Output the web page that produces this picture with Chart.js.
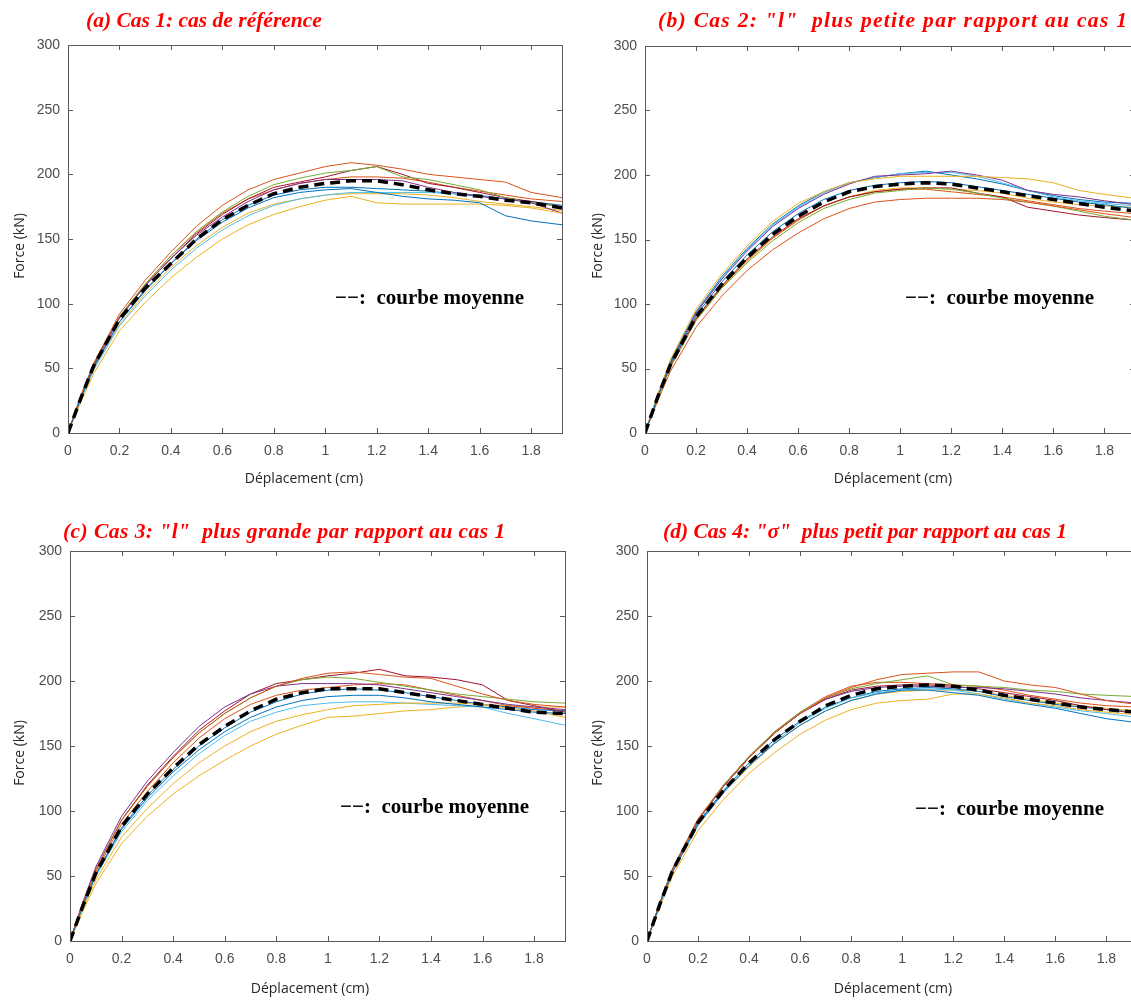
<!DOCTYPE html>
<html>
<head>
<meta charset="utf-8">
<script src="https://cdn.jsdelivr.net/npm/chart.js@4.4.1/dist/chart.umd.min.js"></script>
<style>
  body { margin: 0; background: #fff; width: 1131px; height: 1000px; overflow: hidden; position: relative; }
  .panneau { position: absolute; }
  .titre { position: absolute; font-family: "Liberation Serif", serif; font-weight: bold; font-style: italic;
           font-size: 21.5px; color: #ff0000; white-space: nowrap; line-height: 22px; }
  .note { position: absolute; font-family: "Liberation Serif", serif; font-weight: bold;
          font-size: 21px; color: #000; white-space: nowrap; line-height: 22px; }
  .axeX { position: absolute; font-family: "Open Sans", sans-serif; font-size: 14px; color: #262626;
          white-space: nowrap; line-height: 16px; transform: translateX(-50%); }
  .axeY { position: absolute; font-family: "Open Sans", sans-serif; font-size: 14px; color: #262626;
          white-space: nowrap; line-height: 16px; transform: translate(-50%, -50%) rotate(-90deg); }
</style>
</head>
<body>

<div class="panneau" style="left:0px;top:0px"><canvas id="grA" width="570" height="505"></canvas></div>
<div class="panneau" style="left:570px;top:0px"><canvas id="grB" width="580" height="505"></canvas></div>
<div class="panneau" style="left:0px;top:505px"><canvas id="grC" width="575" height="495"></canvas></div>
<div class="panneau" style="left:570px;top:505px"><canvas id="grD" width="580" height="495"></canvas></div>

<div class="titre" style="left:86px;top:9px">(a) Cas 1: cas de référence</div>
<div class="titre" style="left:658px;top:9px;letter-spacing:1.3px">(b) Cas 2: "l"&nbsp; plus petite par rapport au cas 1</div>
<div class="titre" style="left:63px;top:520px;letter-spacing:0.45px">(c) Cas 3: "l"&nbsp; plus grande par rapport au cas 1</div>
<div class="titre" style="left:663px;top:520px">(d) Cas 4: "σ"&nbsp; plus petit par rapport au cas 1</div>

<div class="note" style="left:335px;top:286px">−−:&nbsp; courbe moyenne</div>
<div class="note" style="left:905px;top:286px">−−:&nbsp; courbe moyenne</div>
<div class="note" style="left:340px;top:795px">−−:&nbsp; courbe moyenne</div>
<div class="note" style="left:915px;top:797px">−−:&nbsp; courbe moyenne</div>

<div class="axeX" style="left:304px;top:470px">Déplacement (cm)</div>
<div class="axeX" style="left:893px;top:470px">Déplacement (cm)</div>
<div class="axeX" style="left:310px;top:980px">Déplacement (cm)</div>
<div class="axeX" style="left:893px;top:980px">Déplacement (cm)</div>

<div class="axeY" style="left:19px;top:246px">Force (kN)</div>
<div class="axeY" style="left:597px;top:246px">Force (kN)</div>
<div class="axeY" style="left:19px;top:753px">Force (kN)</div>
<div class="axeY" style="left:597px;top:753px">Force (kN)</div>

<script>
// abscisses communes (cm)
var deplacement = [0, 0.05, 0.1, 0.2, 0.3, 0.4, 0.5, 0.6, 0.7, 0.8, 0.9, 1.0, 1.1, 1.2, 1.3, 1.4, 1.5, 1.6, 1.7, 1.8, 1.92];

// couleurs MATLAB par défaut
var couleurs = ['#0072BD', '#D95319', '#EDB120', '#7E2F8E', '#77AC30', '#4DBEEE', '#A2142F', '#0072BD', '#D95319', '#EDB120'];

var ticksX = [0, 0.2, 0.4, 0.6, 0.8, 1, 1.2, 1.4, 1.6, 1.8];
var ticksY = [0, 50, 100, 150, 200, 250, 300];

// Cas 1 : force (kN)
var cas1Essais = [
    [0, 27, 51, 86, 110, 131, 149, 163, 174, 182, 186, 188, 189, 186, 183, 181, 180, 178, 168, 164, 161],
    [0, 29, 54, 92, 118, 140, 160, 176, 188, 196, 201, 206, 209, 207, 204, 200, 198, 196, 194, 186, 182],
    [0, 24, 46, 79, 101, 120, 136, 150, 161, 169, 175, 180, 183, 178, 177, 177, 177, 177, 176, 174, 170],
    [0, 28, 53, 89, 114, 135, 153, 167, 179, 188, 193, 196, 196, 196, 195, 190, 186, 183, 181, 178, 170],
    [0, 28, 53, 90, 115, 137, 156, 171, 183, 192, 197, 201, 203, 206, 198, 196, 192, 188, 182, 178, 175],
    [0, 26, 49, 83, 106, 126, 143, 157, 168, 176, 181, 184, 186, 186, 186, 186, 185, 184, 181, 178, 175],
    [0, 28, 52, 89, 114, 135, 154, 169, 181, 190, 194, 198, 203, 206, 200, 193, 190, 186, 182, 179, 175],
    [0, 27, 51, 86, 111, 131, 150, 165, 176, 184, 188, 190, 190, 189, 188, 187, 185, 183, 181, 179, 176],
    [0, 28, 53, 90, 115, 137, 155, 170, 181, 188, 193, 196, 198, 198, 197, 194, 190, 187, 184, 181, 179],
    [0, 26, 49, 84, 108, 128, 145, 159, 170, 177, 181, 184, 185, 185, 185, 184, 182, 179, 177, 175, 172]
];
var cas1Moyenne = [0, 27, 52, 88, 112, 131, 150, 165, 176, 185, 190, 193, 195, 195, 192, 188, 185, 183, 180, 178, 174];

// Cas 2
var cas2Essais = [
    [0, 28, 54, 91, 117, 138, 156, 170, 181, 188, 192, 194, 195, 194, 191, 188, 185, 182, 179, 177, 174],
    [0, 25, 48, 82, 106, 126, 142, 155, 166, 174, 179, 181, 182, 182, 182, 181, 179, 176, 173, 170, 167],
    [0, 30, 57, 96, 123, 145, 164, 178, 187, 194, 197, 199, 199, 199, 199, 198, 197, 194, 188, 185, 182],
    [0, 29, 55, 93, 119, 141, 160, 174, 185, 193, 199, 200, 201, 203, 200, 196, 188, 185, 183, 180, 177],
    [0, 27, 51, 87, 112, 132, 149, 163, 174, 181, 186, 188, 190, 189, 186, 182, 179, 176, 172, 168, 165],
    [0, 29, 55, 93, 120, 142, 161, 175, 186, 194, 198, 201, 202, 202, 199, 194, 188, 183, 180, 178, 176],
    [0, 28, 53, 89, 114, 135, 152, 166, 176, 183, 187, 189, 190, 190, 186, 183, 175, 172, 169, 167, 165],
    [0, 29, 56, 94, 121, 143, 162, 176, 187, 194, 198, 201, 203, 200, 197, 193, 188, 184, 181, 179, 178],
    [0, 27, 52, 88, 113, 134, 151, 165, 176, 183, 187, 189, 189, 187, 185, 183, 180, 177, 174, 172, 170],
    [0, 27, 52, 88, 113, 133, 151, 165, 176, 183, 188, 190, 190, 189, 188, 186, 182, 179, 177, 176, 175]
];
var cas2Moyenne = [0, 28, 53, 90, 115, 136, 154, 168, 179, 187, 191, 193, 194, 193, 190, 187, 184, 181, 178, 175, 172];

// Cas 3
var cas3Essais = [
    [0, 27, 51, 86, 110, 130, 147, 161, 172, 180, 185, 188, 189, 189, 187, 184, 182, 180, 178, 176, 175],
    [0, 29, 55, 93, 119, 141, 160, 175, 187, 196, 202, 206, 207, 205, 203, 202, 196, 190, 185, 182, 180],
    [0, 25, 47, 80, 102, 121, 137, 150, 161, 169, 174, 178, 181, 182, 183, 183, 183, 182, 179, 177, 172],
    [0, 30, 57, 96, 123, 145, 165, 180, 190, 196, 198, 198, 198, 197, 194, 191, 188, 185, 182, 180, 178],
    [0, 29, 55, 93, 119, 141, 160, 175, 187, 196, 201, 203, 202, 199, 196, 193, 190, 188, 186, 184, 183],
    [0, 26, 50, 84, 108, 127, 144, 158, 169, 176, 181, 183, 184, 184, 183, 182, 181, 180, 175, 171, 166],
    [0, 29, 55, 93, 120, 142, 162, 177, 190, 198, 201, 204, 206, 209, 204, 203, 201, 197, 185, 181, 176],
    [0, 27, 51, 87, 112, 132, 150, 164, 176, 184, 190, 193, 194, 193, 191, 188, 185, 182, 180, 178, 177],
    [0, 28, 53, 90, 115, 137, 156, 171, 182, 189, 193, 195, 197, 198, 197, 193, 189, 185, 181, 179, 177],
    [0, 23, 44, 75, 96, 113, 127, 139, 150, 159, 166, 172, 173, 175, 177, 178, 180, 181, 181, 180, 180]
];
var cas3Moyenne = [0, 27, 52, 88, 113, 133, 151, 165, 177, 186, 191, 194, 194, 194, 191, 188, 185, 182, 179, 176, 175];

// Cas 4
var cas4Essais = [
    [0, 28, 53, 90, 115, 135, 152, 166, 177, 185, 190, 193, 193, 191, 189, 185, 182, 179, 175, 171, 168],
    [0, 29, 55, 93, 119, 141, 160, 175, 187, 195, 201, 205, 206, 207, 207, 200, 197, 195, 190, 185, 182],
    [0, 26, 50, 85, 109, 129, 145, 159, 170, 178, 183, 185, 186, 190, 190, 187, 183, 181, 178, 176, 174],
    [0, 29, 55, 93, 119, 141, 160, 175, 186, 192, 195, 196, 196, 195, 195, 194, 192, 190, 187, 185, 183],
    [0, 29, 55, 93, 120, 142, 161, 176, 187, 194, 198, 201, 204, 197, 196, 195, 193, 192, 190, 189, 188],
    [0, 28, 53, 89, 114, 135, 153, 168, 179, 187, 191, 193, 194, 193, 190, 186, 183, 180, 177, 175, 172],
    [0, 29, 55, 93, 119, 141, 160, 175, 186, 193, 196, 197, 197, 196, 194, 191, 188, 185, 181, 178, 175],
    [0, 28, 54, 91, 116, 137, 155, 169, 180, 187, 192, 194, 195, 194, 192, 188, 185, 182, 180, 178, 176],
    [0, 29, 56, 94, 120, 142, 161, 176, 188, 196, 199, 199, 198, 197, 196, 193, 189, 186, 183, 181, 180],
    [0, 28, 53, 89, 114, 134, 152, 166, 177, 185, 190, 192, 193, 193, 192, 189, 186, 183, 181, 179, 177]
];
var cas4Moyenne = [0, 28, 54, 91, 116, 137, 155, 169, 181, 189, 194, 196, 197, 196, 193, 189, 186, 183, 180, 178, 176];

// cadre avec graduations vers l'intérieur (style MATLAB)
var cadre = {
    id: 'cadre',
    afterDraw: function (chart) {
        var ctx = chart.ctx, a = chart.chartArea;
        var sx = chart.scales.x, sy = chart.scales.y;
        ctx.save();
        ctx.strokeStyle = '#5a5a5a';
        ctx.lineWidth = 1;
        ctx.strokeRect(Math.round(a.left) + 0.5, Math.round(a.top) + 0.5,
            Math.round(a.right - a.left), Math.round(a.bottom - a.top));
        ctx.beginPath();
        sx.ticks.forEach(function (t) {
            var px = Math.round(sx.getPixelForValue(t.value)) + 0.5;
            ctx.moveTo(px, a.bottom); ctx.lineTo(px, a.bottom - 5);
            ctx.moveTo(px, a.top); ctx.lineTo(px, a.top + 5);
        });
        sy.ticks.forEach(function (t) {
            var py = Math.round(sy.getPixelForValue(t.value)) + 0.5;
            ctx.moveTo(a.left, py); ctx.lineTo(a.left + 5, py);
            ctx.moveTo(a.right, py); ctx.lineTo(a.right - 5, py);
        });
        ctx.stroke();
        ctx.restore();
    }
};

function points(ys) {
    return deplacement.map(function (x, i) { return { x: x, y: ys[i] }; });
}

function tracer(id, essais, moyenne, zone) {
    var canvas = document.getElementById(id);
    var w = canvas.width, h = canvas.height;
    var datasets = [{
        data: points(moyenne),
        borderColor: '#000000',
        borderWidth: 3.5,
        borderDash: [10, 6],
        order: 0
    }];
    essais.forEach(function (e, i) {
        datasets.push({
            data: points(e),
            borderColor: couleurs[i % couleurs.length],
            borderWidth: 1,
            order: 1
        });
    });

    return new Chart(canvas.getContext('2d'), {
        type: 'line',
        data: { datasets: datasets },
        options: {
            responsive: false,
            animation: false,
            events: [],
            layout: { padding: { left: 0, top: zone.top, right: w - zone.right, bottom: 0 } },
            elements: { point: { radius: 0 }, line: { tension: 0 } },
            plugins: { legend: { display: false }, tooltip: { enabled: false } },
            scales: {
                x: {
                    type: 'linear', min: 0, max: 1.92,
                    afterBuildTicks: function (s) { s.ticks = ticksX.map(function (v) { return { value: v }; }); },
                    ticks: {
                        color: '#4d4d4d', padding: 2, maxRotation: 0, autoSkip: false,
                        font: { family: 'Liberation Sans', size: 14 },
                        callback: function (v) { return String(Math.round(v * 10) / 10); }
                    },
                    grid: { display: false },
                    border: { display: false },
                    afterFit: function (s) { s.height = h - zone.bottom; }
                },
                y: {
                    type: 'linear', min: 0, max: 300,
                    afterBuildTicks: function (s) { s.ticks = ticksY.map(function (v) { return { value: v }; }); },
                    ticks: {
                        color: '#4d4d4d', padding: 0,
                        font: { family: 'Liberation Sans', size: 14 }
                    },
                    grid: { display: false },
                    border: { display: false },
                    afterFit: function (s) { s.width = zone.left; }
                }
            }
        },
        plugins: [cadre]
    });
}

tracer('grA', cas1Essais, cas1Moyenne, { left: 68, top: 45, right: 562, bottom: 433 });
tracer('grB', cas2Essais, cas2Moyenne, { left: 75, top: 46, right: 565, bottom: 433 });
tracer('grC', cas3Essais, cas3Moyenne, { left: 70, top: 46, right: 565, bottom: 436 });
tracer('grD', cas4Essais, cas4Moyenne, { left: 77, top: 46, right: 567, bottom: 436 });
</script>
</body>
</html>
